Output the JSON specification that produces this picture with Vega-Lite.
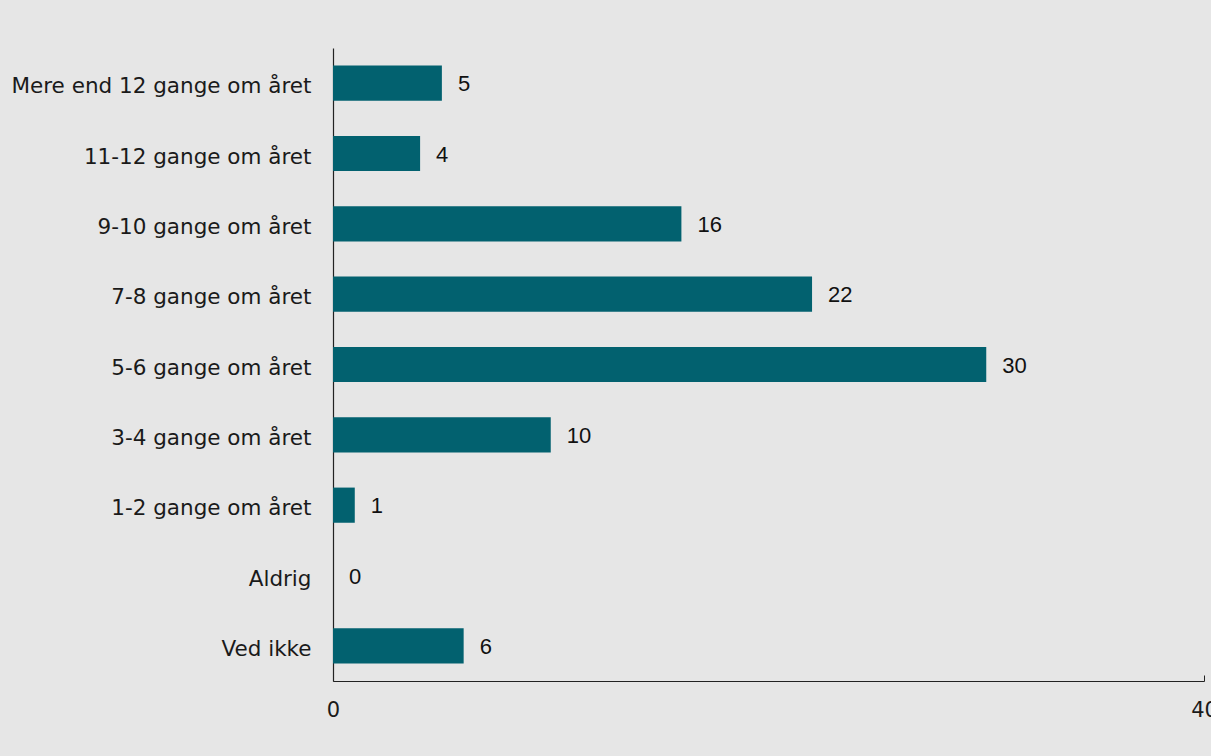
{
  "$schema": "https://vega.github.io/schema/vega-lite/v6.json",
  "autosize": "none",
  "width": 871,
  "height": 633,
  "padding": {"left": 333, "top": 48, "right": 7, "bottom": 75},
  "background": "#e6e6e6",
  "config": {"view": {"stroke": null}},
  "data": {"values": [
    {"kategori": "Mere end 12 gange om året", "andel": 5},
    {"kategori": "11-12 gange om året", "andel": 4},
    {"kategori": "9-10 gange om året", "andel": 16},
    {"kategori": "7-8 gange om året", "andel": 22},
    {"kategori": "5-6 gange om året", "andel": 30},
    {"kategori": "3-4 gange om året", "andel": 10},
    {"kategori": "1-2 gange om året", "andel": 1},
    {"kategori": "Aldrig", "andel": 0},
    {"kategori": "Ved ikke", "andel": 6}
  ]},
  "encoding": {
    "y": {"field": "kategori", "type": "nominal", "sort": null,
      "scale": {"paddingInner": 0.5, "paddingOuter": 0.25},
      "axis": {"title": null, "ticks": false, "domainColor": "#222", "domainWidth": 1.2,
        "labelFont": "DejaVu Sans", "labelFontSize": 21.5, "labelColor": "#1a1a1a", "labelPadding": 22,
        "labelLimit": 0, "labelOffset": 4}},
    "x": {"field": "andel", "type": "quantitative",
      "scale": {"domain": [0, 40], "nice": false},
      "axis": {"title": null, "values": [0, 40], "grid": false, "tickSize": -6, "tickColor": "#222",
        "domainColor": "#222", "domainWidth": 1.2, "labelFont": "DejaVu Sans", "labelFontSize": 21,
        "labelColor": "#1a1a1a", "labelPadding": 24, "labelFlush": false}}
  },
  "layer": [
    {"mark": {"type": "bar", "color": "#02616f"}},
    {"mark": {"type": "text", "align": "left", "baseline": "middle", "dx": 16, "dy": 1,
      "font": "Liberation Sans", "fontSize": 22, "color": "#111"},
     "encoding": {"text": {"field": "andel", "type": "quantitative"}}}
  ]
}
